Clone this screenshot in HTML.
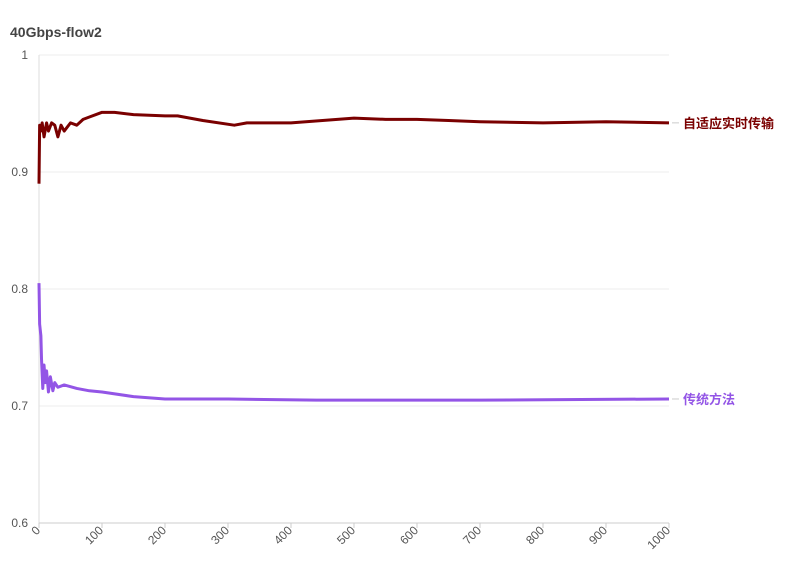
<!DOCTYPE html>
<html><head><meta charset="utf-8"><style>
body{margin:0;background:#fff;font-family:"Liberation Sans","Noto Sans CJK SC",sans-serif}
</style></head><body>
<svg id="c" width="796" height="575" style="display:block">
<text x="10" y="37" font-size="14" font-weight="bold" fill="#444">40Gbps-flow2</text>
</svg>
<script>
const xs1=[0,1,3,5,8,12,15,20,25,30,35,40,50,60,70,80,100,120,150,200,220,260,310,330,400,450,500,550,600,650,700,800,900,1000];
const adaptive=[0.89,0.94,0.935,0.942,0.93,0.942,0.935,0.942,0.94,0.93,0.94,0.935,0.942,0.94,0.945,0.947,0.951,0.951,0.949,0.948,0.948,0.944,0.940,0.942,0.942,0.944,0.946,0.945,0.945,0.944,0.943,0.942,0.943,0.942];
const xs2=[0,1,3,4,6,8,10,12,15,18,22,25,30,40,60,80,100,150,200,300,440,600,700,1000];
const traditional=[0.805,0.77,0.76,0.74,0.715,0.735,0.72,0.73,0.712,0.725,0.713,0.72,0.716,0.718,0.715,0.713,0.712,0.708,0.706,0.706,0.705,0.705,0.705,0.706];
const yTicks=[0.6,0.7,0.8,0.9,1];
const xTicks=[0,100,200,300,400,500,600,700,800,900,1000];
const svg=document.getElementById('c'),NS='http://www.w3.org/2000/svg';
const X=v=>39+v*0.63, Y=v=>523-(v-0.6)*1170;
function mk(t,a){const e=document.createElementNS(NS,t);for(const k in a)e.setAttribute(k,a[k]);svg.appendChild(e);return e;}
yTicks.forEach(t=>{
 const g=mk('line',{x1:39,x2:669,y1:Y(t),y2:Y(t),stroke:'#eee'});
 
 
 const l=mk('text',{x:28,y:Y(t)+4,'font-size':12,fill:'#555','text-anchor':'end'});l.textContent=String(t);
 
 
});
const ax=mk('line',{x1:39,x2:39,y1:55,y2:523,stroke:'#ddd'});


const bx=mk('line',{x1:39,x2:669,y1:523,y2:523,stroke:'#ccc'});


xTicks.forEach(t=>{
 const tk=mk('line',{x1:X(t),x2:X(t),y1:523,y2:528,stroke:'#ccc'});
 
 
 const ax0=X(t)+2, ay0=531;
 const l=mk('text',{x:ax0,y:ay0,'font-size':12,fill:'#555','text-anchor':'end',transform:`rotate(-45 ${ax0} ${ay0})`});l.textContent=t;
 
 
});
function line(xs,ys,col,name,label){
 const p=mk('polyline',{points:xs.map((x,i)=>X(x)+','+Y(ys[i])).join(' '),fill:'none',stroke:col,'stroke-width':3,'stroke-linejoin':'round'});
 
 
 const yy=Y(ys[ys.length-1]);
 const d=mk('line',{x1:672,x2:679,y1:yy,y2:yy,stroke:'#ccc'});
 
 
 const t=mk('text',{x:683,y:yy+5,'font-size':13,'font-weight':'bold',fill:col});t.textContent=label;
 
 
}
line(xs1,adaptive,'#7a0000','adaptive-series','自适应实时传输');
line(xs2,traditional,'#9355e6','traditional-series','传统方法');
</script>
</body></html>
